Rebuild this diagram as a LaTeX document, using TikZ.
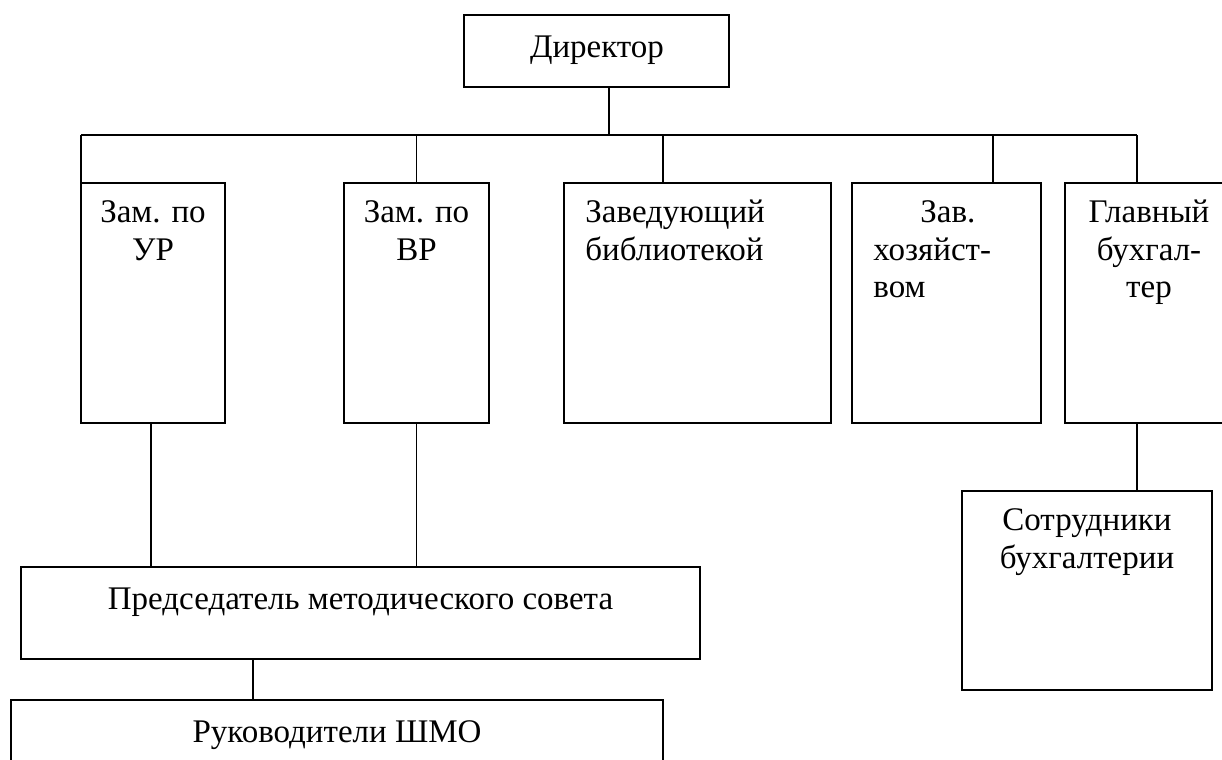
\documentclass[tikz,border=0pt]{standalone}
\usepackage{fontspec}
\setmainfont{Liberation Serif}
\begin{document}
\begin{tikzpicture}[x=0.5pt,y=-0.5pt,
  box/.style={draw, line width=0.9pt, inner sep=0pt, fill=white},
  lbl/.style={anchor=base, inner sep=0pt, font=\fontsize{16.5}{18}\selectfont},
  lbll/.style={anchor=base west, inner sep=0pt, font=\fontsize{16.5}{18}\selectfont},
  conn/.style={line width=0.9pt}]
\useasboundingbox (0,0) rectangle (1222,760);
% boxes
\node[box, minimum width=132.5pt, minimum height=36pt] (dir) at (596.5,51) {};
\node[box, minimum width=72pt, minimum height=120pt] (ur) at (153,303) {};
\node[box, minimum width=72.5pt, minimum height=120pt] (vr) at (416.5,303) {};
\node[box, minimum width=133.5pt, minimum height=120pt] (lib) at (697.5,303) {};
\node[box, minimum width=94.5pt, minimum height=120pt] (hoz) at (946.5,303) {};
\node[box, minimum width=84pt, minimum height=120pt] (glav) at (1149,303) {};
\node[box, minimum width=125pt, minimum height=99.5pt] (sotr) at (1087,590.5) {};
\node[box, minimum width=339.5pt, minimum height=46pt] (pred) at (360.5,613) {};
\node[box, minimum width=326pt, minimum height=45pt] (ruk) at (337,745) {};
% texts
\node[lbl] (tdir) at (597,57) {Директор};
\node[lbl] (tur1) at (153,222) {Зам. по};
\node[lbl] (tur2) at (153,260) {УР};
\node[lbl] (tvr1) at (416.5,222) {Зам. по};
\node[lbl] (tvr2) at (416.5,260) {ВР};
\node[lbll] (tlib1) at (585,222) {Заведующий};
\node[lbll] (tlib2) at (585,260) {библиотекой};
\node[lbll] (thoz1) at (920,222) {Зав.};
\node[lbll] (thoz2) at (873,260) {хозяйст-};
\node[lbll] (thoz3) at (873,297) {вом};
\node[lbl] (tgl1) at (1149,222) {Главный};
\node[lbl] (tgl2) at (1149,260) {бухгал-};
\node[lbl] (tgl3) at (1149,297) {тер};
\node[lbl] (tso1) at (1087,530) {Сотрудники};
\node[lbl] (tso2) at (1087,568) {бухгалтерии};
\node[lbl] (tpred) at (360.5,609) {Председатель методического совета};
\node[lbl] (truk) at (337,742) {Руководители ШМО};
% bus and drops
\coordinate (busL) at (81,135);
\coordinate (busR) at (1137,135);
\coordinate (bdir) at (609,135);
\coordinate (blib) at (663,135);
\coordinate (bhoz) at (993,135);
\coordinate (bur) at (151,567);
\draw[conn] (busL) -- (busR);
\draw[conn] (bdir |- dir.south) -- (bdir);
\draw[conn] (busL) -- (busL |- ur.north);
\draw[conn] (vr.north) -- (vr.north |- busL);
\draw[conn] (blib) -- (blib |- lib.north);
\draw[conn] (bhoz) -- (bhoz |- hoz.north);
\draw[conn] (busR) -- (busR |- glav.north);
\draw[conn] (bur |- ur.south) -- (bur |- pred.north);
\draw[conn] (vr.south) -- (vr.south |- pred.north);
\draw[conn] (pred.south -| 253,0) -- (ruk.north -| 253,0);
\draw[conn] (busR |- glav.south) -- (busR |- sotr.north);
\end{tikzpicture}
\end{document}
